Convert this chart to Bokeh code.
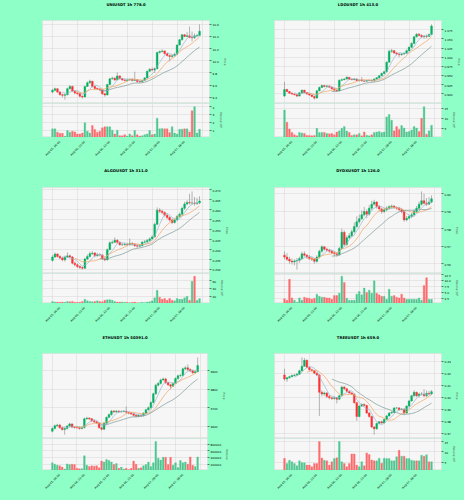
import math
import pandas as pd
from bokeh.plotting import figure
from bokeh.models import (ColumnDataSource, Range1d, FixedTicker, Grid,
                          CustomJSTickFormatter)
from bokeh.layouts import row, column
from bokeh.embed import file_html
from bokeh.resources import INLINE
from bokeh.core.properties import value

# ---------------- data ----------------
TICK_POS = [0, 10, 20, 30, 40, 50]
TICK_LABELS = ["Aug 05, 16:00", "Aug 06, 02:00", "Aug 06, 12:00",
               "Aug 06, 22:00", "Aug 07, 08:00", "Aug 07, 18:00"]
MAV = (5, 10, 20)

UNI_O = [9.486, 9.514, 9.541, 9.486, 9.443, 9.432, 9.443, 9.541, 9.578, 9.503,
         9.470, 9.459, 9.416, 9.405, 9.578, 9.638, 9.665, 9.578, 9.546, 9.535,
         9.524, 9.459, 9.438, 9.611, 9.703, 9.714, 9.686, 9.751, 9.708, 9.686,
         9.676, 9.686, 9.697, 9.676, 9.686, 9.659, 9.654, 9.676, 9.719, 9.827,
         9.859, 9.849, 9.870, 10.135, 10.151, 10.162, 10.119, 10.086, 10.070, 10.081,
         10.108, 10.259, 10.346, 10.427, 10.400, 10.411, 10.384, 10.378, 10.411, 10.416]
UNI_H = [9.54, 9.56, 9.55, 9.50, 9.46, 9.46, 9.56, 9.60, 9.59, 9.52,
         9.49, 9.47, 9.43, 9.59, 9.66, 9.69, 9.67, 9.59, 9.56, 9.55,
         9.53, 9.47, 9.62, 9.72, 9.74, 9.73, 9.81, 9.76, 9.72, 9.70,
         9.70, 9.71, 9.71, 9.82, 9.70, 9.67, 9.69, 9.73, 9.84, 9.88,
         9.89, 9.89, 10.15, 10.17, 10.19, 10.17, 10.13, 10.10, 10.10, 10.13,
         10.27, 10.36, 10.44, 10.44, 10.47, 10.56, 10.48, 10.45, 10.44, 10.60]
UNI_L = [9.47, 9.50, 9.47, 9.43, 9.40, 9.36, 9.43, 9.53, 9.49, 9.45,
         9.44, 9.40, 9.38, 9.40, 9.57, 9.62, 9.56, 9.53, 9.52, 9.50,
         9.44, 9.41, 9.43, 9.60, 9.69, 9.67, 9.68, 9.69, 9.67, 9.66,
         9.66, 9.67, 9.66, 9.67, 9.64, 9.64, 9.64, 9.67, 9.71, 9.82,
         9.83, 9.80, 9.86, 10.12, 10.14, 10.10, 10.07, 9.99, 10.05, 10.07,
         10.10, 10.25, 10.33, 10.39, 10.39, 10.37, 10.32, 10.36, 10.39, 10.41]
UNI_C = [9.514, 9.541, 9.486, 9.443, 9.432, 9.443, 9.541, 9.578, 9.503, 9.470,
         9.459, 9.416, 9.405, 9.578, 9.638, 9.665, 9.578, 9.546, 9.535, 9.524,
         9.459, 9.438, 9.611, 9.703, 9.714, 9.686, 9.751, 9.708, 9.686, 9.676,
         9.686, 9.697, 9.676, 9.686, 9.659, 9.654, 9.676, 9.719, 9.827, 9.859,
         9.849, 9.870, 10.135, 10.151, 10.162, 10.119, 10.086, 10.070, 10.081, 10.108,
         10.259, 10.346, 10.427, 10.400, 10.411, 10.384, 10.378, 10.411, 10.416, 10.486]
UNI_V = [1.17, 1.17, 0.74, 0.61, 0.61, 0.22, 0.96, 0.74, 0.87, 0.78,
         0.52, 0.52, 0.65, 1.96, 0.87, 0.65, 1.61, 1.09, 0.74, 0.87,
         1.30, 1.43, 1.43, 1.43, 1.00, 0.52, 1.00, 0.30, 0.30, 0.43,
         0.26, 0.52, 0.30, 0.96, 0.43, 0.26, 0.30, 0.43, 0.52, 0.96,
         0.43, 0.52, 2.52, 1.17, 1.22, 1.17, 1.17, 0.70, 1.43, 0.65,
         0.52, 1.13, 1.13, 1.17, 1.17, 0.78, 3.48, 4.00, 0.65, 1.13]
UNI_PTICKS = [9.4, 9.6, 9.8, 10.0, 10.2, 10.4, 10.6]
UNI_VTICKS = [1, 2, 3, 4]

LDO_O = [0.8939, 0.9119, 0.9065, 0.9020, 0.8993, 0.8975, 0.8939, 0.9029, 0.9101, 0.9038,
         0.8993, 0.8966, 0.8930, 0.8885, 0.9083, 0.9173, 0.9227, 0.9200, 0.9218, 0.9182,
         0.9137, 0.9101, 0.9083, 0.9371, 0.9388, 0.9406, 0.9451, 0.9397, 0.9388, 0.9406,
         0.9362, 0.9371, 0.9353, 0.9344, 0.9362, 0.9371, 0.9353, 0.9406, 0.9442, 0.9496,
         0.9559, 0.9604, 0.9865, 1.0162, 1.0180, 1.0117, 1.0090, 1.0072, 1.0090, 1.0108,
         1.0180, 1.0270, 1.0378, 1.0558, 1.0629, 1.0594, 1.0558, 1.0575, 1.0565, 1.0621]
LDO_H = [0.9330, 0.9140, 0.9080, 0.9040, 0.9010, 0.8990, 0.9050, 0.9120, 0.9110, 0.9050,
         0.9010, 0.8980, 0.8940, 0.9100, 0.9200, 0.9250, 0.9240, 0.9240, 0.9230, 0.9190,
         0.9150, 0.9120, 0.9400, 0.9420, 0.9430, 0.9480, 0.9460, 0.9420, 0.9430, 0.9420,
         0.9390, 0.9460, 0.9370, 0.9380, 0.9390, 0.9390, 0.9420, 0.9460, 0.9510, 0.9580,
         0.9630, 0.9890, 1.0210, 1.0230, 1.0200, 1.0140, 1.0110, 1.0120, 1.0140, 1.0210,
         1.0300, 1.0410, 1.0580, 1.0660, 1.0660, 1.0630, 1.0600, 1.0620, 1.0650, 1.0900]
LDO_L = [0.8920, 0.9050, 0.9000, 0.8980, 0.8960, 0.8910, 0.8930, 0.9010, 0.9020, 0.8980,
         0.8950, 0.8910, 0.8840, 0.8870, 0.9070, 0.9160, 0.9180, 0.9190, 0.9170, 0.9120,
         0.9090, 0.9060, 0.9070, 0.9350, 0.9370, 0.9390, 0.9380, 0.9370, 0.9370, 0.9350,
         0.9340, 0.9340, 0.9330, 0.9330, 0.9350, 0.9340, 0.9340, 0.9390, 0.9430, 0.9480,
         0.9540, 0.9590, 0.9850, 1.0120, 1.0090, 1.0050, 1.0000, 1.0040, 1.0060, 1.0090,
         1.0160, 1.0250, 1.0360, 1.0540, 1.0570, 1.0530, 1.0510, 1.0520, 1.0560, 1.0600]
LDO_C = [0.9119, 0.9065, 0.9020, 0.8993, 0.8975, 0.8939, 0.9029, 0.9101, 0.9038, 0.8993,
         0.8966, 0.8930, 0.8885, 0.9083, 0.9173, 0.9227, 0.9200, 0.9218, 0.9182, 0.9137,
         0.9101, 0.9083, 0.9371, 0.9388, 0.9406, 0.9451, 0.9397, 0.9388, 0.9406, 0.9362,
         0.9371, 0.9353, 0.9344, 0.9362, 0.9371, 0.9353, 0.9406, 0.9442, 0.9496, 0.9559,
         0.9604, 0.9865, 1.0162, 1.0180, 1.0117, 1.0090, 1.0072, 1.0090, 1.0108, 1.0180,
         1.0270, 1.0378, 1.0558, 1.0629, 1.0594, 1.0558, 1.0575, 1.0565, 1.0621, 1.0854]
LDO_V = [14.0, 8.0, 4.6, 2.9, 1.7, 1.2, 2.9, 2.6, 2.4, 1.4,
         1.4, 1.2, 1.4, 4.9, 2.9, 2.9, 2.9, 2.4, 2.2, 2.4,
         1.7, 3.1, 3.7, 4.9, 5.8, 3.6, 2.9, 1.4, 1.7, 1.7,
         2.4, 1.2, 3.1, 1.5, 1.2, 1.7, 2.9, 3.1, 3.4, 2.9,
         3.1, 10.6, 11.8, 9.0, 3.7, 5.8, 4.4, 6.3, 5.1, 3.1,
         3.4, 4.1, 5.8, 5.1, 3.4, 9.9, 15.7, 2.0, 3.7, 6.5]
LDO_PTICKS = [0.900, 0.925, 0.950, 0.975, 1.000, 1.025, 1.050, 1.075]
LDO_VTICKS = [5, 10, 15]

ALGO_O = [0.2346, 0.2363, 0.2378, 0.2366, 0.2358, 0.2349, 0.2363, 0.2369, 0.2363, 0.2332,
          0.2324, 0.2315, 0.2310, 0.2307, 0.2353, 0.2366, 0.2380, 0.2383, 0.2369, 0.2375,
          0.2373, 0.2353, 0.2349, 0.2400, 0.2434, 0.2437, 0.2447, 0.2437, 0.2425, 0.2425,
          0.2427, 0.2424, 0.2431, 0.2427, 0.2420, 0.2417, 0.2420, 0.2437, 0.2439, 0.2446,
          0.2454, 0.2464, 0.2527, 0.2598, 0.2593, 0.2586, 0.2573, 0.2561, 0.2549, 0.2536,
          0.2549, 0.2566, 0.2578, 0.2607, 0.2629, 0.2637, 0.2634, 0.2634, 0.2632, 0.2634]
ALGO_H = [0.2372, 0.2386, 0.2382, 0.2372, 0.2364, 0.2370, 0.2386, 0.2376, 0.2368, 0.2340,
          0.2330, 0.2322, 0.2316, 0.2360, 0.2376, 0.2390, 0.2392, 0.2388, 0.2384, 0.2382,
          0.2378, 0.2360, 0.2406, 0.2442, 0.2446, 0.2462, 0.2452, 0.2442, 0.2434, 0.2436,
          0.2434, 0.2456, 0.2438, 0.2432, 0.2426, 0.2428, 0.2444, 0.2448, 0.2454, 0.2462,
          0.2472, 0.2536, 0.2612, 0.2608, 0.2600, 0.2592, 0.2580, 0.2568, 0.2556, 0.2556,
          0.2574, 0.2586, 0.2616, 0.2640, 0.2648, 0.2680, 0.2692, 0.2664, 0.2660, 0.2668]
ALGO_L = [0.2340, 0.2358, 0.2360, 0.2352, 0.2342, 0.2340, 0.2358, 0.2355, 0.2326, 0.2316,
          0.2308, 0.2304, 0.2300, 0.2303, 0.2348, 0.2360, 0.2374, 0.2362, 0.2365, 0.2366,
          0.2348, 0.2342, 0.2345, 0.2396, 0.2428, 0.2432, 0.2430, 0.2420, 0.2418, 0.2420,
          0.2418, 0.2420, 0.2420, 0.2414, 0.2410, 0.2412, 0.2416, 0.2432, 0.2434, 0.2440,
          0.2450, 0.2460, 0.2522, 0.2584, 0.2578, 0.2566, 0.2552, 0.2540, 0.2528, 0.2530,
          0.2542, 0.2560, 0.2572, 0.2600, 0.2622, 0.2626, 0.2624, 0.2620, 0.2624, 0.2628]
ALGO_C = [0.2363, 0.2378, 0.2366, 0.2358, 0.2349, 0.2363, 0.2369, 0.2363, 0.2332, 0.2324,
          0.2315, 0.2310, 0.2307, 0.2353, 0.2366, 0.2380, 0.2383, 0.2369, 0.2375, 0.2373,
          0.2353, 0.2349, 0.2400, 0.2434, 0.2437, 0.2447, 0.2437, 0.2425, 0.2425, 0.2427,
          0.2424, 0.2431, 0.2427, 0.2420, 0.2417, 0.2420, 0.2437, 0.2439, 0.2446, 0.2454,
          0.2464, 0.2527, 0.2598, 0.2593, 0.2586, 0.2573, 0.2561, 0.2549, 0.2536, 0.2549,
          0.2566, 0.2578, 0.2607, 0.2629, 0.2637, 0.2634, 0.2634, 0.2632, 0.2634, 0.2644]
ALGO_V = [6.3, 4.7, 4.7, 3.9, 4.7, 3.9, 6.3, 5.5, 6.3, 3.9,
          3.9, 3.9, 6.3, 11.8, 7.8, 6.3, 5.5, 6.3, 7.8, 6.3,
          5.5, 9.4, 11.0, 11.0, 9.4, 6.3, 4.7, 4.7, 4.7, 3.9,
          3.9, 3.1, 3.9, 4.7, 3.1, 3.1, 3.9, 3.1, 4.7, 5.5,
          7.8, 15.7, 35.3, 17.2, 11.8, 14.1, 9.4, 14.1, 9.4, 7.8,
          14.1, 11.8, 11.8, 15.7, 19.6, 9.4, 58.8, 72.1, 9.4, 14.1]
ALGO_PTICKS = [0.230, 0.235, 0.240, 0.245, 0.250, 0.255, 0.260, 0.265, 0.270]
ALGO_VTICKS = [20, 40, 60]

DYDX_O = [0.5648, 0.5638, 0.5625, 0.5615, 0.5610, 0.5615, 0.5619, 0.5629, 0.5656, 0.5648,
          0.5638, 0.5629, 0.5625, 0.5613, 0.5638, 0.5671, 0.5696, 0.5683, 0.5677, 0.5671,
          0.5663, 0.5656, 0.5652, 0.5687, 0.5779, 0.5710, 0.5748, 0.5760, 0.5783, 0.5812,
          0.5840, 0.5856, 0.5879, 0.5898, 0.5883, 0.5917, 0.5940, 0.5952, 0.5927, 0.5913,
          0.5898, 0.5908, 0.5917, 0.5925, 0.5929, 0.5921, 0.5917, 0.5908, 0.5898, 0.5850,
          0.5860, 0.5869, 0.5879, 0.5898, 0.5917, 0.5940, 0.5960, 0.5946, 0.5940, 0.5952]
DYDX_H = [0.5670, 0.5660, 0.5640, 0.5630, 0.5625, 0.5632, 0.5640, 0.5668, 0.5670, 0.5655,
          0.5650, 0.5640, 0.5632, 0.5648, 0.5680, 0.5705, 0.5700, 0.5692, 0.5685, 0.5678,
          0.5670, 0.5662, 0.5695, 0.5800, 0.5790, 0.5760, 0.5775, 0.5795, 0.5835, 0.5870,
          0.5880, 0.5905, 0.5925, 0.5910, 0.5935, 0.5960, 0.5965, 0.5958, 0.5935, 0.5920,
          0.5918, 0.5928, 0.5935, 0.5938, 0.5935, 0.5928, 0.5925, 0.5915, 0.5905, 0.5872,
          0.5880, 0.5890, 0.5910, 0.5930, 0.5955, 0.6013, 0.6000, 0.5975, 0.5980, 0.5990]
DYDX_L = [0.5625, 0.5615, 0.5600, 0.5595, 0.5590, 0.5566, 0.5605, 0.5620, 0.5640, 0.5628,
          0.5620, 0.5615, 0.5600, 0.5605, 0.5630, 0.5662, 0.5675, 0.5668, 0.5662, 0.5655,
          0.5645, 0.5640, 0.5645, 0.5680, 0.5700, 0.5702, 0.5740, 0.5750, 0.5775, 0.5805,
          0.5830, 0.5850, 0.5870, 0.5860, 0.5875, 0.5905, 0.5932, 0.5915, 0.5900, 0.5885,
          0.5890, 0.5900, 0.5910, 0.5915, 0.5912, 0.5908, 0.5900, 0.5888, 0.5840, 0.5842,
          0.5852, 0.5860, 0.5870, 0.5890, 0.5910, 0.5932, 0.5938, 0.5930, 0.5935, 0.5945]
DYDX_C = [0.5638, 0.5625, 0.5615, 0.5610, 0.5615, 0.5619, 0.5629, 0.5656, 0.5648, 0.5638,
          0.5629, 0.5625, 0.5613, 0.5638, 0.5671, 0.5696, 0.5683, 0.5677, 0.5671, 0.5663,
          0.5656, 0.5652, 0.5687, 0.5779, 0.5710, 0.5748, 0.5760, 0.5783, 0.5812, 0.5840,
          0.5856, 0.5879, 0.5898, 0.5883, 0.5917, 0.5940, 0.5952, 0.5927, 0.5913, 0.5898,
          0.5908, 0.5917, 0.5925, 0.5929, 0.5921, 0.5917, 0.5908, 0.5898, 0.5850, 0.5860,
          0.5869, 0.5879, 0.5898, 0.5917, 0.5940, 0.5960, 0.5946, 0.5940, 0.5952, 0.5971]
DYDX_V = [2.2, 1.6, 10.5, 2.6, 1.6, 0.7, 2.6, 1.6, 2.9, 2.6,
          2.4, 2.0, 2.4, 4.2, 3.3, 2.9, 2.9, 2.6, 2.6, 2.0,
          3.6, 3.6, 4.6, 11.8, 9.2, 2.4, 1.6, 1.6, 1.6, 4.2,
          5.3, 3.9, 6.8, 4.9, 5.9, 4.6, 9.9, 4.6, 3.9, 3.3,
          3.3, 2.0, 6.3, 3.3, 3.6, 2.9, 2.6, 4.2, 2.6, 2.0,
          2.0, 2.0, 2.0, 2.0, 2.6, 1.6, 7.9, 11.2, 2.0, 2.0]
DYDX_PTICKS = [0.56, 0.57, 0.58, 0.59, 0.60]
DYDX_VTICKS = [2.5, 5.0, 7.5, 10.0, 12.5]

ETH_O = [3571.7, 3586.8, 3601.9, 3605.7, 3590.6, 3581.1, 3586.8, 3600.0, 3611.3, 3594.3,
         3592.5, 3590.6, 3586.8, 3592.5, 3639.6, 3643.4, 3639.6, 3628.3, 3622.6, 3617.0,
         3590.6, 3583.0, 3615.1, 3647.2, 3662.3, 3681.1, 3677.4, 3681.1, 3677.4, 3679.2,
         3681.1, 3675.0, 3669.8, 3666.0, 3658.5, 3652.8, 3658.5, 3656.6, 3669.8, 3688.7,
         3700.0, 3728.3, 3775.5, 3822.6, 3832.1, 3851.0, 3856.6, 3835.8, 3824.5, 3817.0,
         3832.1, 3858.5, 3873.6, 3875.5, 3911.3, 3917.0, 3907.5, 3900.0, 3890.6, 3896.2]
ETH_H = [3592, 3608, 3612, 3610, 3596, 3592, 3605, 3618, 3615, 3600,
         3598, 3596, 3598, 3646, 3650, 3648, 3644, 3634, 3628, 3620,
         3596, 3620, 3652, 3668, 3688, 3688, 3687, 3686, 3685, 3687,
         3706, 3680, 3675, 3670, 3663, 3664, 3663, 3675, 3694, 3706,
         3734, 3782, 3830, 3840, 3858, 3864, 3862, 3840, 3830, 3838,
         3865, 3880, 3884, 3918, 3926, 3935, 3914, 3906, 3902, 3974]
ETH_L = [3566, 3582, 3596, 3585, 3574, 3553, 3580, 3595, 3589, 3586,
         3585, 3580, 3582, 3586, 3634, 3632, 3622, 3617, 3610, 3585,
         3576, 3578, 3610, 3642, 3656, 3670, 3672, 3671, 3672, 3674,
         3668, 3664, 3660, 3652, 3647, 3648, 3650, 3652, 3665, 3684,
         3696, 3724, 3770, 3816, 3826, 3846, 3830, 3818, 3800, 3812,
         3828, 3852, 3868, 3870, 3905, 3900, 3893, 3884, 3886, 3892]
ETH_C = [3586.8, 3601.9, 3605.7, 3590.6, 3581.1, 3586.8, 3600.0, 3611.3, 3594.3, 3592.5,
         3590.6, 3586.8, 3592.5, 3639.6, 3643.4, 3639.6, 3628.3, 3622.6, 3617.0, 3590.6,
         3583.0, 3615.1, 3647.2, 3662.3, 3681.1, 3677.4, 3681.1, 3677.4, 3679.2, 3681.1,
         3675.0, 3669.8, 3666.0, 3658.5, 3652.8, 3658.5, 3656.6, 3669.8, 3688.7, 3700.0,
         3728.3, 3775.5, 3822.6, 3832.1, 3851.0, 3856.6, 3835.8, 3824.5, 3817.0, 3832.1,
         3858.5, 3873.6, 3875.5, 3911.3, 3917.0, 3907.5, 3900.0, 3890.6, 3896.2, 3930.2]
ETH_V = [247000, 200000, 171000, 152000, 114000, 57000, 210000, 190000, 200000, 190000,
         76000, 67000, 67000, 457000, 171000, 133000, 152000, 143000, 152000, 95000,
         295000, 267000, 343000, 314000, 267000, 190000, 219000, 76000, 114000, 57000,
         76000, 38000, 76000, 295000, 200000, 76000, 95000, 152000, 190000, 267000,
         133000, 247000, 886000, 381000, 324000, 410000, 410000, 190000, 410000, 171000,
         247000, 105000, 314000, 247000, 267000, 200000, 419000, 171000, 133000, 419000]
ETH_PTICKS = [3600, 3700, 3800, 3900]
ETH_VTICKS = [200000, 400000, 600000, 800000]

TREE_O = [0.4188, 0.4154, 0.4165, 0.4174, 0.4183, 0.4188, 0.4194, 0.4223, 0.4261, 0.4310,
          0.4252, 0.4232, 0.4223, 0.4203, 0.4188, 0.4043, 0.4029, 0.4038, 0.4009, 0.3997,
          0.3991, 0.3997, 0.3986, 0.4014, 0.4087, 0.4072, 0.4052, 0.4038, 0.4029, 0.3957,
          0.3841, 0.3928, 0.3942, 0.3933, 0.3870, 0.3841, 0.3754, 0.3739, 0.3783, 0.3797,
          0.3788, 0.3817, 0.3846, 0.3870, 0.3875, 0.3913, 0.3913, 0.3899, 0.3904, 0.3870,
          0.3928, 0.3971, 0.4014, 0.4043, 0.4014, 0.4029, 0.4029, 0.4014, 0.4035, 0.4029]
TREE_H = [0.4240, 0.4172, 0.4182, 0.4192, 0.4196, 0.4205, 0.4232, 0.4335, 0.4330, 0.4318,
          0.4260, 0.4240, 0.4230, 0.4212, 0.4195, 0.4060, 0.4050, 0.4045, 0.4020, 0.4005,
          0.4008, 0.4005, 0.4022, 0.4096, 0.4094, 0.4080, 0.4060, 0.4045, 0.4035, 0.3965,
          0.3935, 0.3950, 0.3950, 0.3940, 0.3878, 0.3848, 0.3762, 0.3790, 0.3805, 0.3805,
          0.3825, 0.3855, 0.3878, 0.3885, 0.3920, 0.3922, 0.3920, 0.3912, 0.3910, 0.3935,
          0.3980, 0.4022, 0.4060, 0.4050, 0.4040, 0.4045, 0.4070, 0.4058, 0.4055, 0.4062]
TREE_L = [0.4140, 0.4130, 0.4158, 0.4168, 0.4176, 0.4180, 0.4188, 0.4215, 0.4255, 0.4245,
          0.4224, 0.4215, 0.4195, 0.4178, 0.3845, 0.4010, 0.4015, 0.3995, 0.3985, 0.3980,
          0.3982, 0.3950, 0.3978, 0.4008, 0.4062, 0.4045, 0.4030, 0.4020, 0.3948, 0.3805,
          0.3835, 0.3920, 0.3925, 0.3862, 0.3830, 0.3745, 0.3690, 0.3730, 0.3775, 0.3780,
          0.3782, 0.3810, 0.3840, 0.3862, 0.3868, 0.3905, 0.3890, 0.3892, 0.3860, 0.3865,
          0.3920, 0.3965, 0.4008, 0.4005, 0.4000, 0.4018, 0.4005, 0.4005, 0.4018, 0.4020]
TREE_C = [0.4154, 0.4165, 0.4174, 0.4183, 0.4188, 0.4194, 0.4223, 0.4261, 0.4310, 0.4252,
          0.4232, 0.4223, 0.4203, 0.4188, 0.4043, 0.4029, 0.4038, 0.4009, 0.3997, 0.3991,
          0.3997, 0.3986, 0.4014, 0.4087, 0.4072, 0.4052, 0.4038, 0.4029, 0.3957, 0.3841,
          0.3928, 0.3942, 0.3933, 0.3870, 0.3841, 0.3754, 0.3739, 0.3783, 0.3797, 0.3788,
          0.3817, 0.3846, 0.3870, 0.3875, 0.3913, 0.3913, 0.3899, 0.3904, 0.3870, 0.3928,
          0.3971, 0.4014, 0.4043, 0.4014, 0.4029, 0.4029, 0.4014, 0.4035, 0.4029, 0.4049]
TREE_V = [6.8, 4.3, 5.9, 5.1, 4.3, 3.2, 5.6, 4.8, 4.6, 3.5,
          3.5, 2.7, 4.3, 4.3, 15.1, 7.0, 5.9, 5.6, 3.5, 5.1,
          6.7, 7.1, 15.1, 5.1, 4.3, 2.7, 4.3, 9.0, 9.0, 3.5,
          2.7, 5.1, 3.2, 9.5, 8.7, 6.0, 5.6, 5.6, 6.8, 4.4,
          6.8, 6.7, 6.7, 5.6, 5.6, 7.6, 10.8, 7.9, 7.9, 6.7,
          6.7, 5.9, 5.6, 5.6, 5.6, 8.3, 7.9, 8.6, 5.1, 5.1]
TREE_PTICKS = [0.37, 0.38, 0.39, 0.40, 0.41, 0.42, 0.43]
TREE_VTICKS = [5, 10, 15]

CHARTS = [
    dict(title="UNIUSDT 1h 778.0", o=UNI_O, h=UNI_H, l=UNI_L, c=UNI_C, v=UNI_V,
         pt=UNI_PTICKS, pd=1, vt=UNI_VTICKS, vd=0, vlabel="Volume  10\u2076"),
    dict(title="LDOUSDT 1h 413.0", o=LDO_O, h=LDO_H, l=LDO_L, c=LDO_C, v=LDO_V,
         pt=LDO_PTICKS, pd=3, vt=LDO_VTICKS, vd=0, vlabel="Volume  10\u2076"),
    dict(title="ALGOUSDT 1h 311.0", o=ALGO_O, h=ALGO_H, l=ALGO_L, c=ALGO_C, v=ALGO_V,
         pt=ALGO_PTICKS, pd=3, vt=ALGO_VTICKS, vd=0, vlabel="Volume  10\u2076"),
    dict(title="DYDXUSDT 1h 126.0", o=DYDX_O, h=DYDX_H, l=DYDX_L, c=DYDX_C, v=DYDX_V,
         pt=DYDX_PTICKS, pd=2, vt=DYDX_VTICKS, vd=1, vlabel="Volume  10\u2076"),
    dict(title="ETHUSDT 1h 50391.0", o=ETH_O, h=ETH_H, l=ETH_L, c=ETH_C, v=ETH_V,
         pt=ETH_PTICKS, pd=0, vt=ETH_VTICKS, vd=0, vlabel="Volume"),
    dict(title="TREEUSDT 1h 659.0", o=TREE_O, h=TREE_H, l=TREE_L, c=TREE_C, v=TREE_V,
         pt=TREE_PTICKS, pd=2, vt=TREE_VTICKS, vd=0, vlabel="Volume  10\u2076"),
]

# ---------------- style ----------------
BG = "#8effc6"
FACE = "#f6f6f6"
GRID = "#d6d6d6"
EDGE = "#dcdcdc"
UP, DOWN = "#00b060", "#fe3032"
VUP, VDOWN = "#4dc790", "#fd6b6c"
WICK = "#707070"
MA_COLORS = ["#9cb6cf", "#f2a561", "#7c9896"]
FONT = "DejaVu Sans"
TICK_FS = "2.8px"

CELL_W = 232
LEFT, RIGHT = 42, 23
# heights of: title strip, price frame, volume frame, date-label strip
ROWS = [dict(th=20, ph=83, vh=34, lh=29),
        dict(th=21, ph=86, vh=30, lh=30),
        dict(th=20, ph=85, vh=32, lh=30)]
BGSTYLE = {"background-color": BG}


def style_yaxis(ax, ticks, dec, label):
    ax.ticker = FixedTicker(ticks=ticks)
    ax.formatter = CustomJSTickFormatter(code="return tick.toFixed(%d);" % dec)
    ax.major_label_text_font_size = TICK_FS
    ax.major_label_text_font = FONT
    ax.major_label_text_color = "black"
    ax.major_tick_out = 2
    ax.major_tick_in = 0
    ax.minor_tick_out = 0
    ax.minor_tick_in = 0
    ax.major_tick_line_width = 0.5
    ax.major_tick_line_color = "black"
    ax.axis_line_color = None
    ax.major_label_standoff = 1
    ax.axis_label = label
    ax.axis_label_text_font = FONT
    ax.axis_label_text_font_size = TICK_FS
    ax.axis_label_text_font_style = "normal"
    ax.axis_label_standoff = 2


def base_fig(height, x_range, y_range, left, right, yaxis=True):
    f = figure(width=CELL_W, height=height, x_range=x_range, y_range=y_range,
               x_axis_location=None,
               y_axis_location="right" if yaxis else None, tools="",
               toolbar_location=None, output_backend="svg",
               min_border_left=left, min_border_right=right,
               min_border_top=0, min_border_bottom=0,
               background_fill_color=FACE, border_fill_color=BG,
               outline_line_color=EDGE, outline_line_width=0.6,
               styles=BGSTYLE)
    return f


def add_grids(f, yticks, n):
    xt = FixedTicker(ticks=TICK_POS + [n])
    if len(f.xgrid):
        f.xgrid.ticker = xt
    else:
        f.add_layout(Grid(dimension=0, ticker=xt))
    f.ygrid.ticker = FixedTicker(ticks=yticks)
    for g in list(f.xgrid) + list(f.ygrid):
        g.grid_line_color = GRID
        g.grid_line_width = 0.5


def make_cell(ch, geom):
    n = len(ch["c"])
    xs = list(range(n))
    up = [c >= o for o, c in zip(ch["o"], ch["c"])]
    src = ColumnDataSource(dict(
        x=xs, o=ch["o"], h=ch["h"], l=ch["l"], c=ch["c"], v=ch["v"],
        top=[max(o, c) for o, c in zip(ch["o"], ch["c"])],
        bot=[min(o, c) for o, c in zip(ch["o"], ch["c"])],
        col=[UP if u else DOWN for u in up],
        vcol=[VUP if u else VDOWN for u in up],
    ))
    xr = Range1d(-4, n + 3)

    # title strip
    th = geom["th"]
    t = base_fig(th, Range1d(0, CELL_W), Range1d(0, th), 0, 0, yaxis=False)
    t.background_fill_color = BG
    t.outline_line_color = None
    t.xgrid.visible = False
    t.ygrid.visible = False
    t.text(x=[CELL_W / 2], y=[th - 3.7], text=[ch["title"]],
           text_font=value(FONT), text_font_style="bold",
           text_font_size="3.8px", text_align="center",
           text_baseline="middle", text_color="black")

    # price panel
    lo, hi = min(ch["l"]), max(ch["h"])
    pad = 0.05 * (hi - lo)
    p = base_fig(geom["ph"], xr, Range1d(lo - pad, hi + pad), LEFT, RIGHT)
    add_grids(p, ch["pt"], n)
    style_yaxis(p.yaxis[0], ch["pt"], ch["pd"], "Price")
    p.segment(x0="x", y0="l", x1="x", y1="h", source=src, line_color=WICK,
              line_width=0.5)
    p.vbar(x="x", top="top", bottom="bot", width=0.7, source=src,
           fill_color="col", line_color="col", line_width=0.4)
    closes = pd.Series(ch["c"])
    for w, colr in zip(MAV, MA_COLORS):
        ma = closes.rolling(w).mean()
        p.line(xs, list(ma), line_color=colr, line_width=0.7)

    # volume panel
    vmin, vmax = min(ch["v"]), max(ch["v"])
    v = base_fig(geom["vh"], xr, Range1d(0.3 * vmin, 1.1 * vmax), LEFT, RIGHT)
    add_grids(v, ch["vt"], n)
    style_yaxis(v.yaxis[0], ch["vt"], ch["vd"], ch["vlabel"])
    v.vbar(x="x", top="v", bottom=0, width=0.7, source=src,
           fill_color="vcol", line_color="vcol", line_width=0.3)

    # date labels strip (shares the x scale of the panels)
    lh = geom["lh"]
    d = base_fig(lh, xr, Range1d(-lh, 0), LEFT, RIGHT, yaxis=False)
    d.background_fill_color = BG
    d.outline_line_color = None
    d.xgrid.visible = False
    d.ygrid.visible = False
    d.text(x=TICK_POS, y=[-10.5] * len(TICK_POS), text=TICK_LABELS,
           angle=math.pi / 4, text_font=value(FONT), text_font_size=TICK_FS,
           text_align="center", text_baseline="middle", text_color="black")
    return column(t, p, v, d, spacing=0, styles=BGSTYLE)


rows = []
for r in range(3):
    cells = [make_cell(CHARTS[2 * r + k], ROWS[r]) for k in range(2)]
    rows.append(row(*cells, spacing=0, styles=BGSTYLE))
layout = column(*rows, spacing=0, styles=BGSTYLE)

open("out.html", "w").write(file_html(layout, INLINE))
